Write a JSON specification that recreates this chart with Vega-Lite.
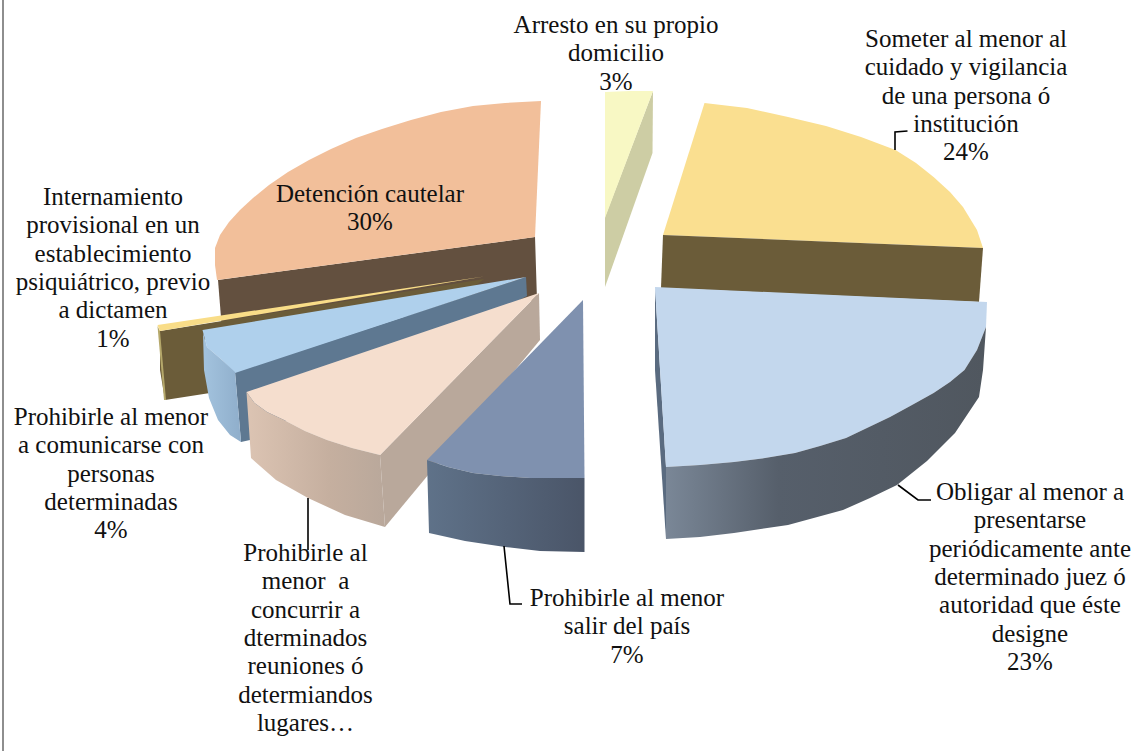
{
"$schema":"https://vega.github.io/schema/vega-lite/v6.json",
"width":1138,"height":751,"padding":0,"autosize":{"type":"none"},
"background":"white",
"view":{"stroke":null},
"config":{"axis":{"grid":false}},
"datasets":{
"faces":[
{"s":"arresto_side","i":1,"x":653,"y":91},{"s":"arresto_side","i":2,"x":652.5,"y":153},{"s":"arresto_side","i":3,"x":605,"y":287},{"s":"arresto_side","i":4,"x":605,"y":217},
{"s":"arresto_top","i":1,"x":605,"y":92},{"s":"arresto_top","i":2,"x":630,"y":91},{"s":"arresto_top","i":3,"x":653,"y":91},{"s":"arresto_top","i":4,"x":605,"y":218},
{"s":"detencion_in","i":1,"x":218,"y":280},{"s":"detencion_in","i":2,"x":535,"y":237},{"s":"detencion_in","i":3,"x":537,"y":300},{"s":"detencion_in","i":4,"x":300,"y":330},{"s":"detencion_in","i":5,"x":222,"y":330},
{"s":"detencion_top","i":1,"x":541,"y":101},{"s":"detencion_top","i":2,"x":505,"y":103},{"s":"detencion_top","i":3,"x":473,"y":106},{"s":"detencion_top","i":4,"x":441,"y":112},{"s":"detencion_top","i":5,"x":411,"y":120},{"s":"detencion_top","i":6,"x":382,"y":129},{"s":"detencion_top","i":7,"x":356,"y":138},{"s":"detencion_top","i":8,"x":331,"y":149},{"s":"detencion_top","i":9,"x":309,"y":160},{"s":"detencion_top","i":10,"x":288,"y":172},{"s":"detencion_top","i":11,"x":269,"y":185},{"s":"detencion_top","i":12,"x":253,"y":198},{"s":"detencion_top","i":13,"x":240,"y":210},{"s":"detencion_top","i":14,"x":229,"y":222},{"s":"detencion_top","i":15,"x":220,"y":235},{"s":"detencion_top","i":16,"x":215,"y":248},{"s":"detencion_top","i":17,"x":215,"y":265},{"s":"detencion_top","i":18,"x":217,"y":280},{"s":"detencion_top","i":19,"x":535,"y":237},
{"s":"someter_top","i":1,"x":704.5,"y":103},{"s":"someter_top","i":2,"x":747,"y":108},{"s":"someter_top","i":3,"x":788,"y":117},{"s":"someter_top","i":4,"x":826,"y":126},{"s":"someter_top","i":5,"x":861,"y":137},{"s":"someter_top","i":6,"x":895.5,"y":150},{"s":"someter_top","i":7,"x":916,"y":163},{"s":"someter_top","i":8,"x":933.6,"y":177},{"s":"someter_top","i":9,"x":950,"y":192},{"s":"someter_top","i":10,"x":963,"y":207},{"s":"someter_top","i":11,"x":977,"y":230},{"s":"someter_top","i":12,"x":983,"y":248},{"s":"someter_top","i":13,"x":663,"y":235},
{"s":"someter_in","i":1,"x":663,"y":235},{"s":"someter_in","i":2,"x":983,"y":248},{"s":"someter_in","i":3,"x":979,"y":302},{"s":"someter_in","i":4,"x":661,"y":288},
{"s":"intern_side","i":1,"x":160,"y":331},{"s":"intern_side","i":2,"x":484,"y":279},{"s":"intern_side","i":3,"x":470,"y":290},{"s":"intern_side","i":4,"x":205,"y":340},{"s":"intern_side","i":5,"x":210,"y":393},{"s":"intern_side","i":6,"x":165,"y":400},{"s":"intern_side","i":7,"x":160,"y":370},
{"s":"intern_edge","i":1,"x":157.5,"y":326},{"s":"intern_edge","i":2,"x":160,"y":331},{"s":"intern_edge","i":3,"x":166,"y":400},{"s":"intern_edge","i":4,"x":164,"y":400},
{"s":"intern_top","i":1,"x":157.5,"y":325},{"s":"intern_top","i":2,"x":484,"y":276.5},{"s":"intern_top","i":3,"x":160,"y":331},
{"s":"comun_side","i":1,"x":526,"y":277},{"s":"comun_side","i":2,"x":527,"y":296},{"s":"comun_side","i":3,"x":250,"y":440},{"s":"comun_side","i":4,"x":241,"y":442},{"s":"comun_side","i":5,"x":235,"y":372},
{"s":"comun_top","i":1,"x":202.5,"y":330},{"s":"comun_top","i":2,"x":526,"y":277},{"s":"comun_top","i":3,"x":235,"y":373},{"s":"comun_top","i":4,"x":222,"y":360},{"s":"comun_top","i":5,"x":207,"y":347},
{"s":"concur_side","i":1,"x":539,"y":293},{"s":"concur_side","i":2,"x":540,"y":340},{"s":"concur_side","i":3,"x":385,"y":527},{"s":"concur_side","i":4,"x":380,"y":455},
{"s":"concur_top","i":1,"x":246.5,"y":392},{"s":"concur_top","i":2,"x":539,"y":293},{"s":"concur_top","i":3,"x":380,"y":455},{"s":"concur_top","i":4,"x":352,"y":448},{"s":"concur_top","i":5,"x":327,"y":440},{"s":"concur_top","i":6,"x":305,"y":431},{"s":"concur_top","i":7,"x":284,"y":420},{"s":"concur_top","i":8,"x":267,"y":412},{"s":"concur_top","i":9,"x":254.5,"y":403},
{"s":"salir_top","i":1,"x":427,"y":460},{"s":"salir_top","i":2,"x":448,"y":467},{"s":"salir_top","i":3,"x":473,"y":473},{"s":"salir_top","i":4,"x":500,"y":476},{"s":"salir_top","i":5,"x":530,"y":478},{"s":"salir_top","i":6,"x":584.5,"y":478},{"s":"salir_top","i":7,"x":583,"y":300},
{"s":"oblig_strip","i":1,"x":655,"y":287},{"s":"oblig_strip","i":2,"x":666,"y":467},{"s":"oblig_strip","i":3,"x":666,"y":539},{"s":"oblig_strip","i":4,"x":655,"y":370},
{"s":"oblig_top","i":1,"x":655,"y":287},{"s":"oblig_top","i":2,"x":987,"y":302},{"s":"oblig_top","i":3,"x":986,"y":327},{"s":"oblig_top","i":4,"x":977,"y":350},{"s":"oblig_top","i":5,"x":964.5,"y":370},{"s":"oblig_top","i":6,"x":950,"y":382},{"s":"oblig_top","i":7,"x":933.6,"y":393},{"s":"oblig_top","i":8,"x":912,"y":405},{"s":"oblig_top","i":9,"x":890,"y":417},{"s":"oblig_top","i":10,"x":846,"y":438},{"s":"oblig_top","i":11,"x":820,"y":446},{"s":"oblig_top","i":12,"x":795,"y":453},{"s":"oblig_top","i":13,"x":765,"y":458},{"s":"oblig_top","i":14,"x":734,"y":462},{"s":"oblig_top","i":15,"x":700,"y":465},{"s":"oblig_top","i":16,"x":666,"y":467},
{"s":"g_comun","i":1,"x":203,"y":333},{"s":"g_comun","i":2,"x":207,"y":347},{"s":"g_comun","i":3,"x":222,"y":360},{"s":"g_comun","i":4,"x":235,"y":372},{"s":"g_comun","i":5,"x":241,"y":442},{"s":"g_comun","i":6,"x":230,"y":435},{"s":"g_comun","i":7,"x":218,"y":420},{"s":"g_comun","i":8,"x":209,"y":398},{"s":"g_comun","i":9,"x":204,"y":370},
{"s":"g_concur","i":1,"x":246.5,"y":392},{"s":"g_concur","i":2,"x":254.5,"y":403},{"s":"g_concur","i":3,"x":267,"y":412},{"s":"g_concur","i":4,"x":284,"y":420},{"s":"g_concur","i":5,"x":305,"y":431},{"s":"g_concur","i":6,"x":327,"y":440},{"s":"g_concur","i":7,"x":352,"y":448},{"s":"g_concur","i":8,"x":380,"y":455},{"s":"g_concur","i":9,"x":385,"y":527},{"s":"g_concur","i":10,"x":345,"y":515},{"s":"g_concur","i":11,"x":308,"y":498},{"s":"g_concur","i":12,"x":276,"y":480},{"s":"g_concur","i":13,"x":251,"y":458},
{"s":"g_salir","i":1,"x":427,"y":460},{"s":"g_salir","i":2,"x":448,"y":467},{"s":"g_salir","i":3,"x":473,"y":473},{"s":"g_salir","i":4,"x":500,"y":476},{"s":"g_salir","i":5,"x":530,"y":478},{"s":"g_salir","i":6,"x":584.5,"y":478},{"s":"g_salir","i":7,"x":584.5,"y":552},{"s":"g_salir","i":8,"x":540,"y":551},{"s":"g_salir","i":9,"x":505,"y":547},{"s":"g_salir","i":10,"x":465,"y":541},{"s":"g_salir","i":11,"x":429,"y":533},
{"s":"g_oblig","i":1,"x":666,"y":467},{"s":"g_oblig","i":2,"x":700,"y":465},{"s":"g_oblig","i":3,"x":734,"y":462},{"s":"g_oblig","i":4,"x":765,"y":458},{"s":"g_oblig","i":5,"x":795,"y":453},{"s":"g_oblig","i":6,"x":820,"y":446},{"s":"g_oblig","i":7,"x":846,"y":438},{"s":"g_oblig","i":8,"x":890,"y":417},{"s":"g_oblig","i":9,"x":912,"y":405},{"s":"g_oblig","i":10,"x":933.6,"y":393},{"s":"g_oblig","i":11,"x":950,"y":382},{"s":"g_oblig","i":12,"x":964.5,"y":370},{"s":"g_oblig","i":13,"x":977,"y":350},{"s":"g_oblig","i":14,"x":986,"y":327},{"s":"g_oblig","i":15,"x":983,"y":370},{"s":"g_oblig","i":16,"x":979,"y":397},{"s":"g_oblig","i":17,"x":955,"y":433},{"s":"g_oblig","i":18,"x":927,"y":461},{"s":"g_oblig","i":19,"x":897,"y":485},{"s":"g_oblig","i":20,"x":870,"y":498},{"s":"g_oblig","i":21,"x":843,"y":510},{"s":"g_oblig","i":22,"x":788,"y":525},{"s":"g_oblig","i":23,"x":734,"y":533},{"s":"g_oblig","i":24,"x":700,"y":537},{"s":"g_oblig","i":25,"x":666,"y":539}
],
"leaders":[
{"s":"a","i":1,"x":895,"y":150},{"s":"a","i":2,"x":895,"y":132},{"s":"a","i":3,"x":907.5,"y":131},
{"s":"b","i":1,"x":898,"y":485},{"s":"b","i":2,"x":918,"y":500},{"s":"b","i":3,"x":931,"y":500},
{"s":"c","i":1,"x":504,"y":546},{"s":"c","i":2,"x":510,"y":604},{"s":"c","i":3,"x":522,"y":604},
{"s":"d","i":1,"x":308,"y":498},{"s":"d","i":2,"x":308,"y":550}
],
"labels":[
{"t":"Arresto en su propio\ndomicilio\n3%","x":616,"y":25},
{"t":"Someter al menor al\ncuidado y vigilancia\nde una persona ó\ninstitución\n24%","x":966,"y":39},
{"t":"Detención cautelar\n30%","x":370,"y":194},
{"t":"Internamiento\nprovisional en un\nestablecimiento\npsiquiátrico, previo\na dictamen\n1%","x":113,"y":197},
{"t":"Prohibirle al menor\na comunicarse con\npersonas\ndeterminadas\n4%","x":111,"y":417},
{"t":"Prohibirle al\nmenor\u00a0 a\nconcurrir a\ndterminados\nreuniones ó\ndetermiandos\nlugares…","x":305.5,"y":553},
{"t":"Prohibirle al menor\nsalir del país\n7%","x":627,"y":598},
{"t":"Obligar al menor a\npresentarse\nperiódicamente ante\ndeterminado juez ó\nautoridad que éste\ndesigne\n23%","x":1030,"y":492}
]
},
"layer":[
{"data":{"name":"faces"},
 "transform":[{"filter":"indexof(datum.s,'g_')!==0"}],
 "mark":{"type":"line","interpolate":"linear-closed","strokeWidth":0},
 "encoding":{
  "x":{"field":"x","type":"quantitative","scale":{"domain":[0,1138],"nice":false},"axis":null},
  "y":{"field":"y","type":"quantitative","scale":{"domain":[751,0],"nice":false,"zero":false},"axis":null},
  "order":{"field":"i"},
  "fill":{"field":"s","type":"nominal","legend":null,"scale":{
   "domain":["arresto_side","arresto_top","detencion_in","detencion_top","someter_top","someter_in","intern_side","intern_edge","intern_top","comun_side","comun_top","concur_side","concur_top","salir_top","oblig_strip","oblig_top"],
   "range":["#CDCDA4","#F8F8C4","#63503F","#F2BF9A","#FADF90","#6B5C39","#6B5C39","#B5A86B","#F9DD88","#5E7891","#AFD0EC","#B9A89B","#F5DECE","#7F91AF","#5A6B80","#C3D7ED"]}}
 }},
{"data":{"name":"faces"},"transform":[{"filter":"datum.s==='g_comun'"}],
 "mark":{"type":"line","interpolate":"linear-closed","strokeWidth":0,"fill":{"gradient":"linear","x1":0,"y1":0,"x2":1,"y2":0,"stops":[{"offset":0,"color":"#A3C3DE"},{"offset":1,"color":"#8FAECB"}]}},
 "encoding":{"x":{"field":"x","type":"quantitative","scale":{"domain":[0,1138],"nice":false},"axis":null},"y":{"field":"y","type":"quantitative","scale":{"domain":[751,0],"nice":false,"zero":false},"axis":null},"order":{"field":"i"}}},
{"data":{"name":"faces"},"transform":[{"filter":"datum.s==='g_concur'"}],
 "mark":{"type":"line","interpolate":"linear-closed","strokeWidth":0,"fill":{"gradient":"linear","x1":0,"y1":0,"x2":1,"y2":0,"stops":[{"offset":0,"color":"#DCC4B3"},{"offset":0.6,"color":"#C5AF9F"},{"offset":1,"color":"#B9A89B"}]}},
 "encoding":{"x":{"field":"x","type":"quantitative","scale":{"domain":[0,1138],"nice":false},"axis":null},"y":{"field":"y","type":"quantitative","scale":{"domain":[751,0],"nice":false,"zero":false},"axis":null},"order":{"field":"i"}}},
{"data":{"name":"faces"},"transform":[{"filter":"datum.s==='g_salir'"}],
 "mark":{"type":"line","interpolate":"linear-closed","strokeWidth":0,"fill":{"gradient":"linear","x1":0,"y1":0,"x2":1,"y2":0,"stops":[{"offset":0,"color":"#5F7289"},{"offset":1,"color":"#4A5568"}]}},
 "encoding":{"x":{"field":"x","type":"quantitative","scale":{"domain":[0,1138],"nice":false},"axis":null},"y":{"field":"y","type":"quantitative","scale":{"domain":[751,0],"nice":false,"zero":false},"axis":null},"order":{"field":"i"}}},
{"data":{"name":"faces"},"transform":[{"filter":"datum.s==='g_oblig'"}],
 "mark":{"type":"line","interpolate":"linear-closed","strokeWidth":0,"fill":{"gradient":"linear","x1":0,"y1":0,"x2":1,"y2":0,"stops":[{"offset":0,"color":"#7A8797"},{"offset":0.35,"color":"#565F6B"},{"offset":1,"color":"#50575F"}]}},
 "encoding":{"x":{"field":"x","type":"quantitative","scale":{"domain":[0,1138],"nice":false},"axis":null},"y":{"field":"y","type":"quantitative","scale":{"domain":[751,0],"nice":false,"zero":false},"axis":null},"order":{"field":"i"}}},
{"data":{"name":"leaders"},
 "mark":{"type":"line","color":"black","strokeWidth":1.6},
 "encoding":{"x":{"field":"x","type":"quantitative","scale":{"domain":[0,1138],"nice":false},"axis":null},"y":{"field":"y","type":"quantitative","scale":{"domain":[751,0],"nice":false,"zero":false},"axis":null},"order":{"field":"i"},"detail":{"field":"s"}}},
{"data":{"name":"labels"},
 "mark":{"type":"text","font":"Liberation Serif","fontSize":25,"lineHeight":28.3,"lineBreak":"\n","align":"center","baseline":"middle","color":"#111111"},
 "encoding":{"x":{"field":"x","type":"quantitative","scale":{"domain":[0,1138],"nice":false},"axis":null},"y":{"field":"y","type":"quantitative","scale":{"domain":[751,0],"nice":false,"zero":false},"axis":null},"text":{"field":"t"}}},
{"data":{"values":[{"x":3}]},
 "mark":{"type":"rule","color":"#8E8E8E","strokeWidth":2},
 "encoding":{"x":{"field":"x","type":"quantitative","scale":{"domain":[0,1138],"nice":false},"axis":null}}}
]
}
